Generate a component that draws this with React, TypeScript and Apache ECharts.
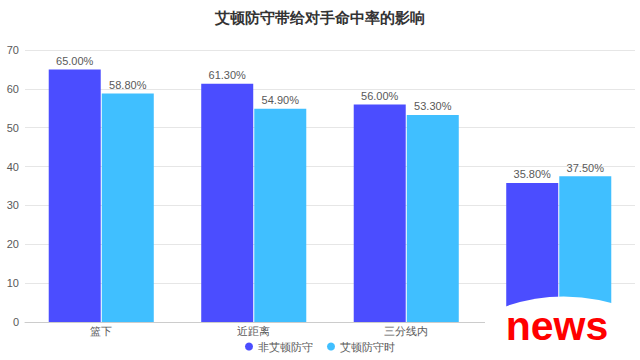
import React, { useEffect, useRef } from "react";
import * as echarts from "echarts";

const categories = ["篮下", "近距离", "三分线内", "三分线外"];
const nonAyton = [65.0, 61.3, 56.0, 35.8];
const withAyton = [58.8, 54.9, 53.3, 37.5];
const yTicks = { min: 0, max: 70, interval: 10 };

echarts.graphic.registerShape(
  "newsMask",
  echarts.graphic.extendPath("M 485 315 Q 557 280 637 311 L 640 360 L 485 360 Z", {}) as any
);

export default function App() {
  const ref = useRef<HTMLDivElement>(null);
  useEffect(() => {
    const chart = echarts.init(ref.current!, null, { renderer: "svg" });
    const label = {
      show: true,
      position: "top",
      color: "#595959",
      fontSize: 11,
      distance: 3,
      formatter: (p: any) => Number(p.value).toFixed(2) + "%",
    };
    chart.setOption({
      animation: false,
      title: {
        text: "艾顿防守带给对手命中率的影响",
        left: "center",
        top: 5,
        textStyle: { fontSize: 15, fontWeight: "bold", color: "#333" },
      },
      legend: {
        bottom: 3,
        left: "center",
        icon: "circle",
        itemWidth: 8,
        itemHeight: 8,
        itemGap: 14,
        textStyle: { fontSize: 11, color: "#595959" },
        data: ["非艾顿防守", "艾顿防守时"],
      },
      grid: { left: 25, right: 5, top: 50, bottom: 38, containLabel: false },
      xAxis: {
        type: "category",
        data: categories,
        axisLine: { lineStyle: { color: "#cccccc" } },
        axisTick: { show: false },
        axisLabel: {
          color: "#595959",
          fontSize: 11,
          margin: 3,
          interval: (i: number) => i < 3,
        },
      },
      yAxis: {
        type: "value",
        min: yTicks.min,
        max: yTicks.max,
        interval: yTicks.interval,
        axisLine: { show: false },
        axisTick: { show: false },
        axisLabel: { color: "#595959", fontSize: 11, margin: 6 },
        splitLine: { lineStyle: { color: "#e6e6e6" } },
      },
      series: [
        {
          name: "非艾顿防守",
          type: "bar",
          data: nonAyton,
          barWidth: 52,
          barGap: "2%",
          itemStyle: { color: "#4b4dff" },
          label,
        },
        {
          name: "艾顿防守时",
          type: "bar",
          data: withAyton,
          barWidth: 52,
          itemStyle: { color: "#40bfff" },
          label,
        },
      ],
      graphic: [
        { type: "newsMask", x: 0, y: 0, z: 100, style: { fill: "#ffffff" } },
        {
          type: "text",
          z: 101,
          x: 557,
          y: 326,
          style: {
            text: "news",
            fill: "#ff0000",
            font: "bold 41px 'Liberation Sans', Arial, sans-serif",
            align: "center",
            verticalAlign: "middle",
          },
        },
      ],
    });
    return () => chart.dispose();
  }, []);
  return <div ref={ref} style={{ width: 640, height: 360, position: "absolute", left: 0, top: 0 }} />;
}
